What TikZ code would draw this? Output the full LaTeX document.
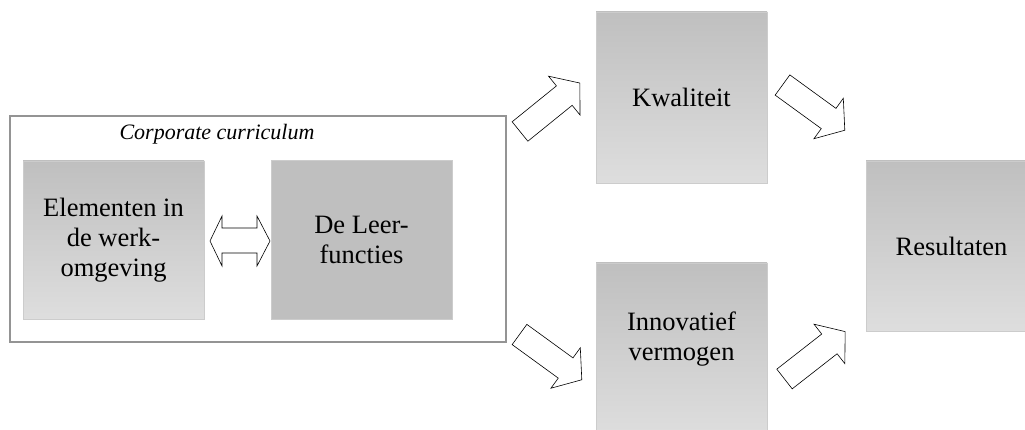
\documentclass[tikz,border=0pt]{standalone}
\usepackage{fontspec}
\setmainfont{Liberation Serif}
\begin{document}
\begin{tikzpicture}[x=1pt,y=-1pt,
  every node/.style={inner sep=0pt, outer sep=0pt},
  boxtext/.style={align=center, font=\fontsize{26.5}{30}\selectfont},
  fadebox/.style={shading=axis, top color=black!25, bottom color=black!13, draw=black!20, line width=0.6pt},
  flatbox/.style={fill=black!25, draw=black!20, line width=0.6pt},
  frame/.style={draw=black!42, line width=1.3pt},
  outline/.style={draw=black, line width=0.6pt, fill=white, line join=miter}
]
\useasboundingbox (0,0) rectangle (1025,430);

% group frame and its title
\draw[frame] (10,116) rectangle (506,342);
\node (title) at (217,134) {\fontsize{22}{26}\selectfont\itshape Corporate curriculum};

% boxes
\draw[fadebox] (23,161) rectangle (204,319);
\node[boxtext] (elem) at (113.5,240) {Elementen in\\de werk-\\omgeving};
\draw[flatbox] (271,160) rectangle (452,319);
\node[boxtext] (leer) at (361.5,240) {De Leer-\\functies};
\draw[fadebox] (596,12) rectangle (767,183);
\node[boxtext] (kwal) at (681.5,97) {Kwaliteit};
\draw[fadebox] (596,263) rectangle (767,436);
\node[boxtext] (innov) at (681.5,339) {Innovatief\\vermogen};
\draw[fadebox] (866,161) rectangle (1037,331);
\node[boxtext] (res) at (951.5,246) {Resultaten};

% two-headed block arrow between the inner boxes
\coordinate (dl) at (210,241);
\coordinate (dr) at (270,241);
\draw[outline] (dl) -- (222,216) -- (222,228) -- (257,228) -- (257,216) -- (dr)
  -- (257,266) -- (257,253) -- (222,253) -- (222,266) -- cycle;

% single block arrows: tail centre, direction
\newcommand{\blockarrow}[2]{%
  \begin{scope}[shift={#1}, rotate=#2]
    \draw[outline] (0,-12.5) -- (57,-12.5) -- (57,-25) -- (77,0) -- (57,25)
      -- (57,12.5) -- (0,12.5) -- cycle;
  \end{scope}}
\coordinate (a1) at (520,131.5);
\coordinate (a2) at (782.5,85);
\coordinate (a3) at (519.5,334.5);
\coordinate (a4) at (784.5,379);
\blockarrow{(a1)}{39}
\blockarrow{(a2)}{-36}
\blockarrow{(a3)}{-36}
\blockarrow{(a4)}{38}
\end{tikzpicture}
\end{document}
